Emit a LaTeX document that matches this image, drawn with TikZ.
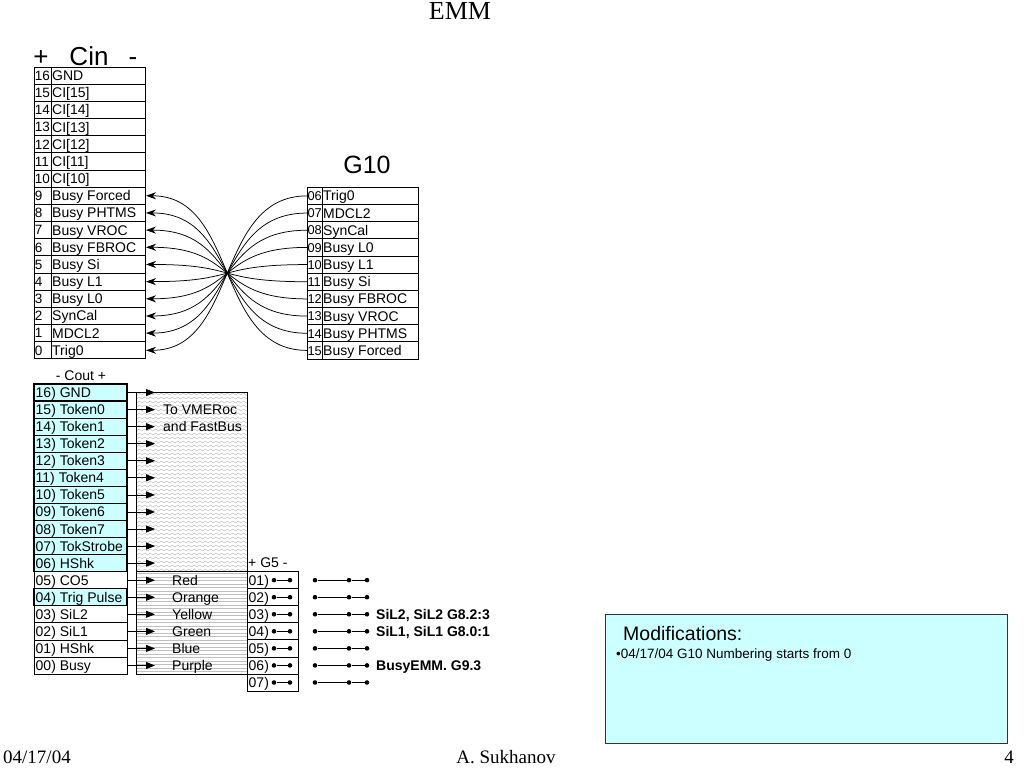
\documentclass[tikz,border=0pt]{standalone}
\usepackage{fontspec}
\setmainfont{Liberation Sans}
\newfontfamily\serifface{Liberation Serif}
\usetikzlibrary{arrows.meta,decorations.pathmorphing}
\definecolor{lcyan}{RGB}{204,255,255}
\newcommand\tabfont{\fontsize{14}{16}\selectfont}
\newcommand\numfont{\fontsize{13.5}{15}\selectfont}
\begin{document}
\begin{tikzpicture}[x=1pt,y=-1pt,
  tbl/.style={draw=black,line width=0.8pt},
  txt/.style={anchor=west,inner sep=1pt,font=\tabfont,text height=13pt,text depth=3pt},
  ntxt/.style={anchor=west,inner sep=0.3pt,font=\numfont,text height=12.5pt,text depth=3pt},
  cinarrow/.style={-{Stealth[length=10pt,width=7pt]},line width=0.75pt},
  outarrow/.style={-{Triangle[length=9pt,width=7pt]},line width=0.75pt},
  dot/.style={circle,fill=black,inner sep=0pt,minimum size=4.6pt},
  hdr/.style={anchor=base,inner sep=0pt},
  wave/.style={draw=gray!60,line width=0.35pt,decorate,decoration={snake,amplitude=1pt,segment length=5.5pt}},
  hline/.style={draw=gray!50,line width=0.4pt},
]
\useasboundingbox (0,0) rectangle (1024,768);

% title and footer
\node[hdr,font=\serifface\fontsize{26}{28}\selectfont] (title) at (460,20) {EMM};
\node[anchor=base west,inner sep=0pt,font=\serifface\fontsize{19}{21}\selectfont] (fdate) at (3,763) {04/17/04};
\node[hdr,font=\serifface\fontsize{19}{21}\selectfont] (fauth) at (506,763) {A. Sukhanov};
\node[anchor=base east,inner sep=0pt,font=\serifface\fontsize{19}{21}\selectfont] (fpage) at (1014,763) {4};

% Cin header
\node[hdr,font=\fontsize{26}{28}\selectfont] (cinplus) at (41,65) {+};
\node[hdr,font=\fontsize{26}{28}\selectfont] (cinlbl) at (89,65) {Cin};
\node[hdr,font=\fontsize{26}{28}\selectfont] (cinminus) at (133,65) {-};

% Cin table
\foreach \pn/\pl [count=\k from 0] in {16/GND,15/{CI[15]},14/{CI[14]},13/{CI[13]},12/{CI[12]},11/{CI[11]},10/{CI[10]},9/Busy Forced,8/Busy PHTMS,7/Busy VROC,6/Busy FBROC,5/Busy Si,4/Busy L1,3/Busy L0,2/SynCal,1/MDCL2,0/Trig0}{
  \pgfmathsetmacro\yt{67+17.17*\k}
  \pgfmathsetmacro\yb{\yt+17.17}
  \pgfmathsetmacro\yc{\yt+8.585}
  \draw[tbl] (34,\yt) rectangle (145,\yb);
  \draw[tbl] (51,\yt) -- (51,\yb);
  \node[ntxt] (cinn\pn) at (34.3,\yc) {\pn};
  \node[txt] (cint\pn) at (51,\yc) {\pl};
  \coordinate (cinR\pn) at (146,\yc);
}

% G10 header and table
\node[hdr,font=\fontsize{25}{27}\selectfont] (g10lbl) at (367,173) {G10};
\foreach \pn/\pl [count=\k from 0] in {06/Trig0,07/MDCL2,08/SynCal,09/Busy L0,10/Busy L1,11/Busy Si,12/Busy FBROC,13/Busy VROC,14/Busy PHTMS,15/Busy Forced}{
  \pgfmathsetmacro\yt{187.3+17.17*\k}
  \pgfmathsetmacro\yb{\yt+17.17}
  \pgfmathsetmacro\yc{\yt+8.585}
  \draw[tbl] (307,\yt) rectangle (418,\yb);
  \draw[tbl] (322,\yt) -- (322,\yb);
  \node[ntxt,font=\fontsize{12.8}{14}\selectfont] (g10n\k) at (307,\yc) {\pn};
  \node[txt] (g10t\k) at (322,\yc) {\pl};
  \coordinate (g10L\k) at (307,\yc);
}

% crossing connectors G10 -> Cin
\foreach \m in {0,...,9}{
  \draw[cinarrow] (g10L\m) .. controls +(-92,0) and +(92,0) .. (cinR\m);
}

% Cout header and table
\node[hdr,font=\tabfont] (coutlbl) at (81,380.5) {- Cout +};
\foreach \pl/\fc/\lw [count=\k from 0] in {16) GND/lcyan/1.2,15) Token0/lcyan/1.2,14) Token1/lcyan/1.2,13) Token2/lcyan/1.2,12) Token3/lcyan/1.2,11) Token4/lcyan/1.2,10) Token5/lcyan/1.2,09) Token6/lcyan/1.2,08) Token7/lcyan/1.2,07) TokStrobe/lcyan/1.2,06) HShk/lcyan/1.2,05) CO5/white/0.8,04) Trig Pulse/lcyan/1.2,03) SiL2/white/0.8,02) SiL1/white/0.8,01) HShk/white/0.8,00) Busy/white/0.8}{
  \pgfmathsetmacro\yt{384+17.06*\k}
  \pgfmathsetmacro\yb{\yt+17.06}
  \pgfmathsetmacro\yc{\yt+8.53}
  \draw[tbl,fill=\fc,line width=\lw pt] (34,\yt) rectangle (127,\yb);
  \node[txt] (cout\k) at (34.5,\yc) {\pl};
  \coordinate (coutR\k) at (127,\yc);
  \coordinate (coutA\k) at (155,\yc);
}

% upper box (wavy pattern)
\begin{scope}
  \clip (136,392.5) rectangle (247.5,571.6);
  \foreach \yy in {394,398,...,574}{
    \path[wave] (132,\yy) -- (252,\yy);
  }
\end{scope}
\draw[tbl] (136,392.5) rectangle (247.5,571.6);
% lower box (horizontal lines)
\begin{scope}
  \clip (136,571.6) rectangle (247.5,674);
  \foreach \yy in {573.5,577,...,674}{
    \path[hline] (136,\yy) -- (247.5,\yy);
  }
\end{scope}
\draw[tbl] (136,571.6) rectangle (247.5,674);

% Cout arrows
\foreach \k in {0,...,16}{
  \draw[outarrow] (coutR\k) -- (coutA\k);
}

% box labels
\node[txt] (tovme) at (162,409.6) {To VMERoc};
\node[txt] (tofb) at (162,426.7) {and FastBus};
\foreach \pl [count=\k from 11] in {Red,Orange,Yellow,Green,Blue,Purple}{
  \pgfmathsetmacro\yc{384+17.06*\k+8.53}
  \node[txt] (col\k) at (171,\yc) {\pl};
}

% G5
\node[anchor=base west,inner sep=1pt,font=\tabfont] (g5lbl) at (247,567.5) {+ G5 -};
\foreach \pl [count=\k from 0] in {01),02),03),04),05),06),07)}{
  \pgfmathsetmacro\yt{571.6+17.06*\k}
  \pgfmathsetmacro\yb{\yt+17.06}
  \pgfmathsetmacro\yc{\yt+8.53}
  \draw[tbl] (247.5,\yt) rectangle (298,\yb);
  \node[txt] (g5n\k) at (247.5,\yc) {\pl};
  \node[dot] (da\k) at (274,\yc) {};
  \node[dot] (db\k) at (290,\yc) {};
  \draw[line width=0.8pt] (da\k) -- (db\k);
  \node[dot] (dc\k) at (315,\yc) {};
  \node[dot] (dd\k) at (349,\yc) {};
  \node[dot] (de\k) at (367,\yc) {};
  \draw[line width=0.8pt] (dc\k) -- (dd\k) -- (de\k);
}
\node[txt,font=\tabfont\bfseries] (lab3) at (375,{571.6+17.06*2+8.53}) {SiL2, SiL2 G8.2:3};
\node[txt,font=\tabfont\bfseries] (lab4) at (375,{571.6+17.06*3+8.53}) {SiL1, SiL1 G8.0:1};
\node[txt,font=\tabfont\bfseries] (lab6) at (375,{571.6+17.06*5+8.53}) {BusyEMM. G9.3};

% Modifications box
\draw[draw=black!80,line width=0.7pt,fill=lcyan] (605,614) rectangle (1007,743);
\node[anchor=base west,inner sep=0pt,font=\fontsize{19.5}{22}\selectfont] (modt) at (623,640) {Modifications:};
\node[anchor=base west,inner sep=0pt,font=\fontsize{13.5}{15}\selectfont] (modl) at (616,658) {\textbullet04/17/04 G10 Numbering starts from 0};
\end{tikzpicture}
\end{document}
